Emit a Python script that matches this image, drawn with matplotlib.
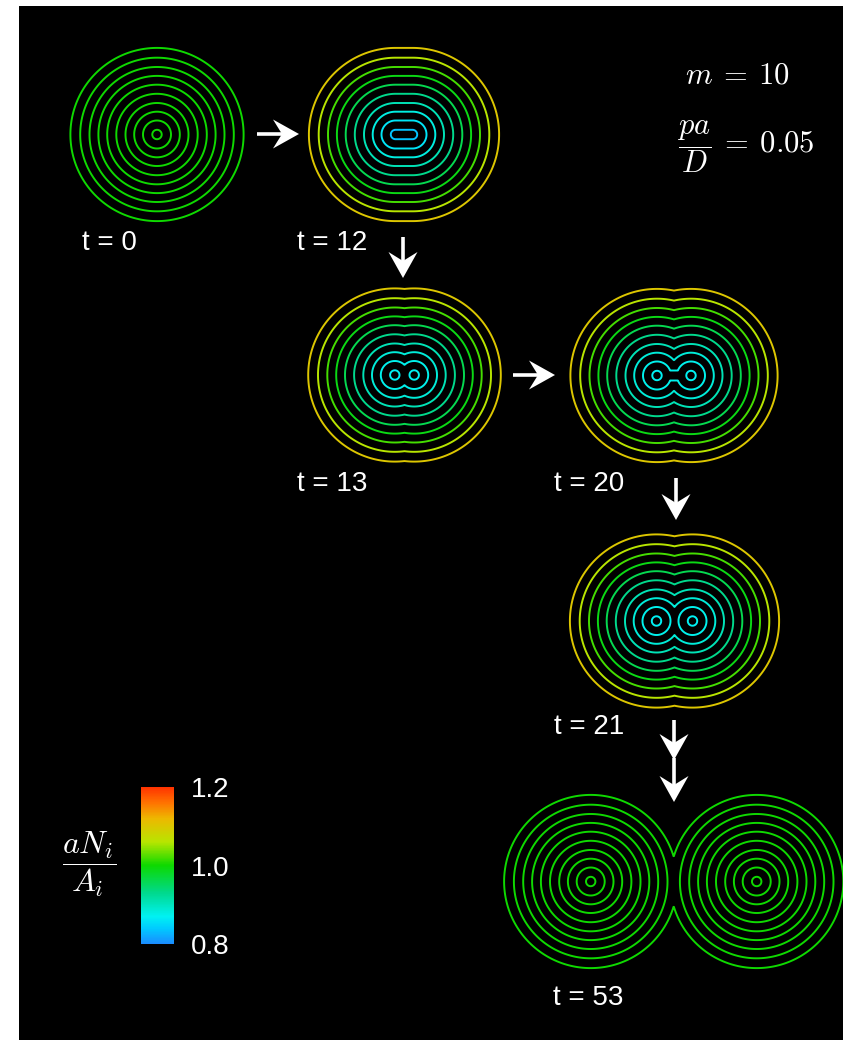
import numpy as np
import matplotlib
matplotlib.use("Agg")
import matplotlib.pyplot as plt
from matplotlib.colors import LinearSegmentedColormap, Normalize
from matplotlib.cm import ScalarMappable
from matplotlib.patches import Polygon

plt.rcParams['mathtext.fontset'] = 'cm'
plt.rcParams['font.family'] = ['Liberation Sans', 'DejaVu Sans']

# ---------------- data ----------------
time_labels = ["t = 0", "t = 12", "t = 13", "t = 20", "t = 21", "t = 53"]
panel_kinds = ["point", "segment", "pair", "pair_bridge", "pair", "pair"]
panel_center_x = [157.0, 404.0, 404.5, 674.0, 674.5, 673.7]
panel_center_y = [134.5, 134.5, 375.0, 375.5, 621.0, 881.5]
panel_half_sep = [0.0, 8.5, 9.7, 17.0, 18.0, 83.0]
bridge_offset = 9.0
ring_radii = [4.7, 14.0, 22.8, 31.5, 40.7, 49.8, 58.6, 67.5, 76.8, 86.6]
ring_values_t0 = [1.0] * 10
ring_values_t12 = [0.835, 0.86, 0.88, 0.905, 0.93, 0.96, 0.99, 1.02, 1.06, 1.10]
ring_values_t13 = [0.87, 0.875, 0.885, 0.905, 0.93, 0.96, 0.99, 1.02, 1.06, 1.10]
ring_values_t20 = [0.87, 0.875, 0.885, 0.905, 0.93, 0.96, 0.99, 1.02, 1.06, 1.10]
ring_values_t21 = [0.87, 0.875, 0.885, 0.905, 0.93, 0.96, 0.99, 1.02, 1.06, 1.10]
ring_values_t53 = [1.0] * 10
ring_values = [ring_values_t0, ring_values_t12, ring_values_t13,
               ring_values_t20, ring_values_t21, ring_values_t53]
label_x = [82, 297, 297, 554, 554, 553]
label_y = [243, 243, 484, 484, 727, 998]
arrow_start = [(257, 134), (403, 237), (513, 375), (676, 478), (674, 720), (674, 758)]
arrow_end = [(299, 134), (403, 278), (555, 375), (676, 520), (674, 760), (674, 802)]
cbar_ticks = [0.8, 1.0, 1.2]
cbar_ticklabels = ["0.8", "1.0", "1.2"]
param_m = r"$m\:=\:10$"
param_pa = r"$\dfrac{pa}{D}\:=\:0.05$"
cbar_label = r"$\dfrac{aN_i}{A_i}$"

cmap_values = [0.80, 0.84, 0.87, 0.93, 1.00, 1.06, 1.12, 1.16, 1.20]
cmap_colors = [(0.10, 0.55, 1.0), (0.0, 0.8, 1.0), (0.0, 0.95, 0.95),
               (0.0, 0.85, 0.55), (0.05, 0.85, 0.0), (0.72, 0.9, 0.0),
               (0.93, 0.72, 0.0), (1.0, 0.45, 0.0), (1.0, 0.2, 0.0)]

# ---------------- setup ----------------
W, H = 843, 1040
fig = plt.figure(figsize=(W / 100, H / 100), dpi=100, facecolor="white")
x0, y0 = 19, 6
ax = fig.add_axes([x0 / W, 0, (W - x0) / W, (H - y0) / H])
ax.set_facecolor("black")
ax.set_xlim(x0, W)
ax.set_ylim(H, y0)
ax.set_axis_off()
ax.add_patch(plt.Rectangle((x0, y0), W - x0, H - y0, color="black", zorder=0))

vmin, vmax = cmap_values[0], cmap_values[-1]
norm = Normalize(vmin, vmax)
pos = [min(max(round((v - vmin) / (vmax - vmin), 6), 0.0), 1.0) for v in cmap_values]
cmap = LinearSegmentedColormap.from_list("nc", list(zip(pos, cmap_colors)))


def field(kind, X, Y, h):
    if kind == "point":
        return np.hypot(X, Y)
    if kind == "segment":
        Xc = np.clip(X, -h, h)
        return np.hypot(X - Xc, Y)
    d1 = np.hypot(X + h, Y)
    d2 = np.hypot(X - h, Y)
    F = np.minimum(d1, d2)
    if kind == "pair_bridge":
        Xc = np.clip(X, -h, h)
        F = np.minimum(F, np.hypot(X - Xc, Y) + bridge_offset)
    return F


for i in range(len(time_labels)):
    cx, cy, h = panel_center_x[i], panel_center_y[i], panel_half_sep[i]
    xs = np.arange(-h - 100, h + 100.01, 0.4)
    ys = np.arange(-100, 100.01, 0.4)
    X, Y = np.meshgrid(xs, ys)
    F = field(panel_kinds[i], X, Y, h)
    cols = [cmap(norm(v)) for v in ring_values[i]]
    ax.contour(X + cx, Y + cy, F, levels=ring_radii, colors=cols,
               linewidths=1.4, zorder=2)
    ax.text(label_x[i], label_y[i], time_labels[i], color="white",
            fontsize=20, ha="left", va="center", zorder=3)

# arrows: shaft + stealth head
head_len, head_half, notch = 26.0, 14.5, 9.0
for (sx, sy), (ex, ey) in zip(arrow_start, arrow_end):
    d = np.array([ex - sx, ey - sy], float)
    L = np.hypot(*d)
    u = d / L
    n = np.array([-u[1], u[0]])
    tip = np.array([ex, ey], float)
    back = tip - u * head_len
    ax.plot([sx, back[0] + u[0] * notch], [sy, back[1] + u[1] * notch],
            color="white", lw=2.6, solid_capstyle="butt", zorder=4)
    pts = [tip, back + n * head_half, back + u * notch, back - n * head_half]
    ax.add_patch(Polygon(pts, closed=True, color="white", lw=0, zorder=5))

ax.text(737, 75, param_m, color="white", fontsize=22, ha="center", va="center")
ax.text(746, 147, param_pa, color="white", fontsize=22, ha="center", va="center")
ax.text(89, 864, cbar_label, color="white", fontsize=23, ha="center", va="center")

cax = fig.add_axes([141 / W, (H - 944) / H, 33 / W, 157 / H])
cb = fig.colorbar(ScalarMappable(norm=norm, cmap=cmap), cax=cax, ticks=cbar_ticks)
cb.set_ticklabels(cbar_ticklabels)
cb.outline.set_visible(False)
cax.tick_params(length=0, pad=12, labelsize=20, labelcolor="white")

fig.savefig("out.png", dpi=100, facecolor="white")
